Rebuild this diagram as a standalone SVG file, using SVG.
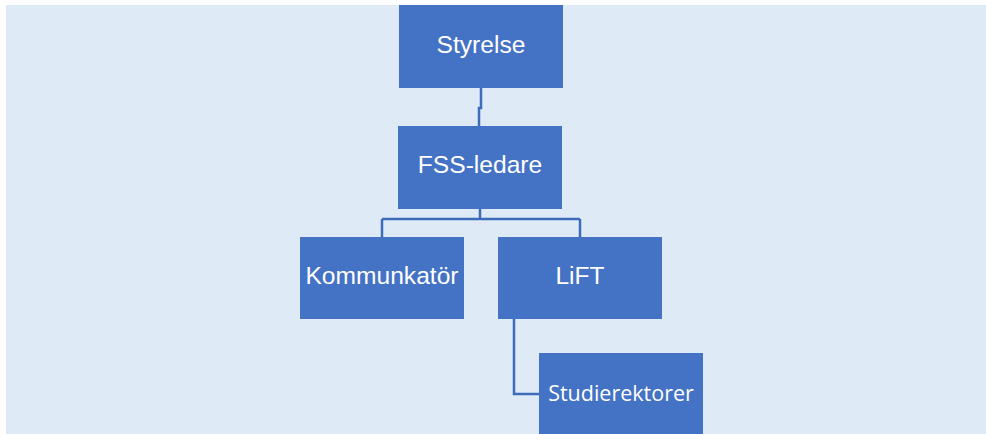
<svg xmlns="http://www.w3.org/2000/svg" width="986" height="434" viewBox="0 0 986 434">
<style>
.box{fill:#4472c4}
.lbl{fill:#ffffff;font-family:"Liberation Sans",Arial,sans-serif;font-size:24.6px;text-anchor:middle}
.lbl2{fill:#ffffff;font-family:"Open Sans","Noto Sans",sans-serif;font-size:21.5px;text-anchor:middle}
.con{fill:none;stroke:#3f6bbb;stroke-width:2.5}
</style>
<rect x="0" y="0" width="986" height="434" fill="#ffffff"/>
<rect x="6" y="5" width="980" height="429" fill="#deeaf6"/>
<g id="connectors">
<path class="con" d="M481,88 V108 H479 V126"/>
<path class="con" d="M480,209 V219 M382,219 H580 M382,219 V237 M580,219 V237"/>
<path class="con" d="M514,319 V394 H539"/>
</g>
<g id="styrelse">
<rect class="box" x="399" y="5" width="164" height="83"/>
<text class="lbl" x="481" y="53">Styrelse</text>
</g>
<g id="fss-ledare">
<rect class="box" x="398" y="126" width="164" height="83"/>
<text class="lbl" x="480" y="173">FSS-ledare</text>
</g>
<g id="kommunkator">
<rect class="box" x="300" y="237" width="164" height="82"/>
<text class="lbl" x="382" y="284">Kommunkatör</text>
</g>
<g id="lift">
<rect class="box" x="498" y="237" width="164" height="82"/>
<text class="lbl" x="580" y="284">LiFT</text>
</g>
<g id="studierektorer">
<rect class="box" x="539" y="353" width="164" height="81"/>
<text class="lbl2" x="621" y="401">Studierektorer</text>
</g>
</svg>
